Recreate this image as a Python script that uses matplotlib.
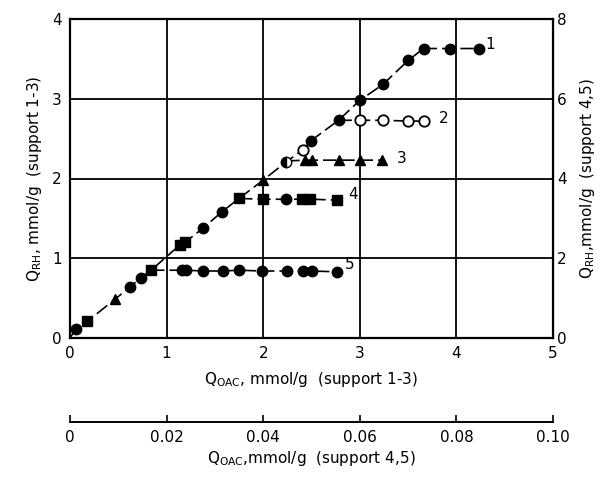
import matplotlib
matplotlib.use("Agg")
import matplotlib.pyplot as plt

plt.rcParams['font.family'] = ['DejaVu Sans']

# Rising common curve (support 1-3 units)
rise_x = [0.06, 0.18, 0.47, 0.62, 0.73, 0.84, 1.14, 1.19, 1.38, 1.57, 1.75, 2.00, 2.24, 2.41, 2.49, 2.78, 3.00, 3.24, 3.50, 3.66, 3.93, 4.23]
rise_y = [0.11, 0.21, 0.49, 0.64, 0.75, 0.85, 1.17, 1.20, 1.38, 1.58, 1.75, 1.98, 2.21, 2.36, 2.47, 2.73, 2.98, 3.18, 3.48, 3.63, 3.63, 3.63]
rise_m = ['o', 's', '^', 'o', 'o', 's', 's', 's', 'o', 'o', 's', '^', 'half', 'open', 'o', 'o', 'o', 'o', 'o', 'o', 'o', 'o']

# Branch 2 (open circles)
s2_x = [2.78, 3.00, 3.24, 3.50, 3.66]
s2_y = [2.73, 2.73, 2.73, 2.72, 2.72]
# Branch 3 (triangles)
s3_x = [2.24, 2.43, 2.50, 2.78, 3.00, 3.23]
s3_y = [2.22, 2.23, 2.23, 2.23, 2.23, 2.23]
# Branch 4
s4_x = [1.75, 2.00, 2.24, 2.40, 2.48, 2.76]
s4_y = [1.75, 1.74, 1.74, 1.74, 1.74, 1.73]
s4_m = ['s', 's', 'o', 's', 's', 's']
# Branch 5
s5_x = [0.84, 1.16, 1.20, 1.38, 1.58, 1.75, 1.99, 2.25, 2.41, 2.50, 2.76]
s5_y = [0.85, 0.85, 0.85, 0.84, 0.84, 0.85, 0.84, 0.84, 0.84, 0.84, 0.83]

labels = ['1', '2', '3', '4', '5']
label_x = [4.30, 3.82, 3.38, 2.88, 2.85]
label_y = [3.68, 2.75, 2.25, 1.80, 0.92]

fig = plt.figure(figsize=(6.06, 4.88), dpi=100)
ax = fig.add_axes([70/606, 1-338/488, (553-70)/606, (338-19)/488])

ax.set_xlim(0, 5)
ax.set_ylim(0, 4)

for g in [1, 2, 3, 4]:
    ax.axvline(g, color='black', lw=1.3, zorder=1)
for g in [1, 2, 3]:
    ax.axhline(g, color='black', lw=1.3, zorder=1)
for sp in ax.spines.values():
    sp.set_linewidth(1.6)

dash = (0, (8, 3))
lkw = dict(color='black', lw=1.2, linestyle=dash, zorder=2)
ax.plot([0] + rise_x, [0] + rise_y, **lkw)
ax.plot(s2_x, s2_y, **lkw)
ax.plot(s3_x, s3_y, **lkw)
ax.plot(s4_x, s4_y, **lkw)
ax.plot(s5_x, s5_y, **lkw)

ms = 7.5
def mark(x, y, m, size=ms):
    if m == 'half':
        ax.plot(x, y, marker='o', ms=size, color='black', mfc='black', mec='black',
                fillstyle='left', markerfacecoloralt='white', zorder=3, linestyle='none')
    elif m == 'open':
        ax.plot(x, y, marker='o', ms=size, mfc='white', mec='black', mew=1.3, zorder=3, linestyle='none')
    elif m == '^':
        ax.plot(x, y, marker='^', ms=size, color='black', zorder=3, linestyle='none')
    else:
        ax.plot(x, y, marker=m, ms=size if m == 'o' else size - 0.5, color='black', zorder=3, linestyle='none')

for x, y, m in zip(rise_x, rise_y, rise_m):
    mark(x, y, m)
for x, y in zip(s2_x[1:], s2_y[1:]):
    mark(x, y, 'open')
for x, y in zip(s3_x[1:], s3_y[1:]):
    mark(x, y, '^', 6.5)
for x, y, m in zip(s4_x[1:], s4_y[1:], s4_m[1:]):
    mark(x, y, m)
for x, y in zip(s5_x[1:], s5_y[1:]):
    mark(x, y, 'o')

for t, x, y in zip(labels, label_x, label_y):
    ax.text(x, y, t, fontsize=11, ha='left', va='center')

ax.set_xticks([0, 1, 2, 3, 4, 5])
ax.set_yticks([0, 1, 2, 3, 4])
ax.tick_params(axis='both', length=0, labelsize=11, pad=6)
ax.set_xlabel('Q$_{\\mathregular{OAC}}$, mmol/g  (support 1-3)', fontsize=11, labelpad=6)
ax.set_ylabel('Q$_{\\mathregular{RH}}$, mmol/g  (support 1-3)', fontsize=11, labelpad=6)

# Right axis (support 4,5)
axr = ax.secondary_yaxis('right', functions=(lambda v: v * 2, lambda v: v / 2))
axr.set_yticks([0, 2, 4, 6, 8])
axr.tick_params(length=0, labelsize=11, pad=3)
axr.set_ylabel('Q$_{\\mathregular{RH}}$,mmol/g  (support 4,5)', fontsize=11, labelpad=8)

# Secondary bottom axis (support 4,5)
axb = ax.secondary_xaxis(-(422 - 338) / 319, functions=(lambda v: v / 50, lambda v: v * 50))
axb.set_xticks([0, 0.02, 0.04, 0.06, 0.08, 0.10])
axb.set_xticklabels(['0', '0.02', '0.04', '0.06', '0.08', '0.10'])
axb.tick_params(direction='in', length=5, width=1.2, labelsize=11, pad=6)
axb.spines['bottom'].set_linewidth(1.4)
axb.set_xlabel('Q$_{\\mathregular{OAC}}$,mmol/g  (support 4,5)', fontsize=11, labelpad=3)

fig.savefig('out.png', dpi=100)
